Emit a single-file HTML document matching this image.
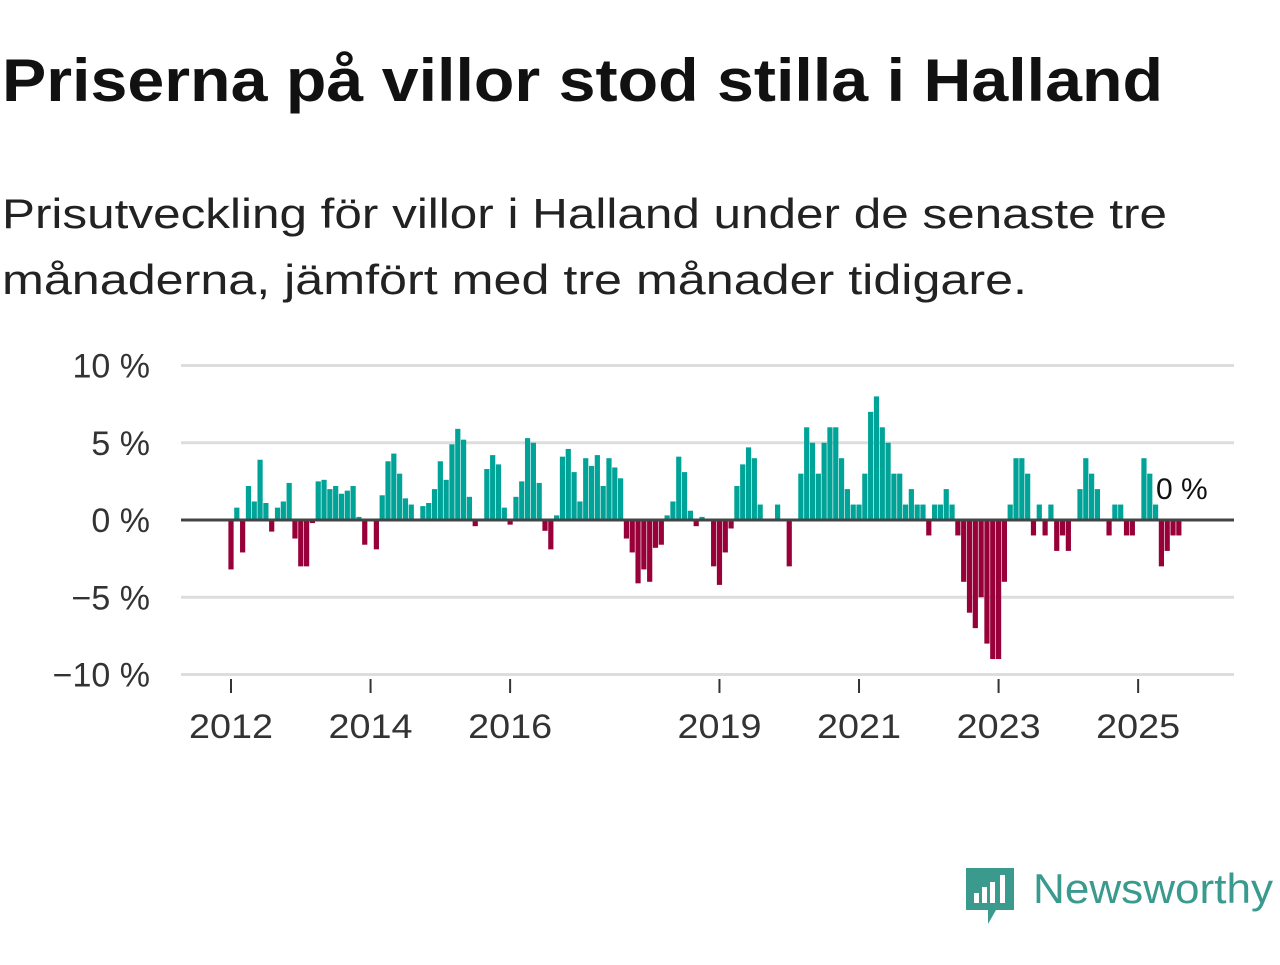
<!DOCTYPE html>
<html><head><meta charset="utf-8">
<style>
body{margin:0;width:1280px;height:960px;background:#fff;overflow:hidden;font-family:"Liberation Sans","DejaVu Sans",sans-serif;}
</style></head>
<body>
<svg width="1280" height="960" viewBox="0 0 1280 960" xmlns="http://www.w3.org/2000/svg">
<text x="2" y="101" font-size="60" font-weight="bold" fill="#111" textLength="1161" lengthAdjust="spacingAndGlyphs">Priserna på villor stod stilla i Halland</text>
<text x="2" y="228" font-size="42" fill="#222" textLength="1165" lengthAdjust="spacingAndGlyphs">Prisutveckling för villor i Halland under de senaste tre</text>
<text x="2" y="294" font-size="42" fill="#222" textLength="1025" lengthAdjust="spacingAndGlyphs">månaderna, jämfört med tre månader tidigare.</text>
<g id="grid"></g>
<g id="bars"></g>
<g id="xaxis"></g>
<line x1="181" x2="1234" y1="520" y2="520" stroke="#444" stroke-width="3"/>
<text x="1156" y="499" font-size="30" fill="#111">0 %</text>
<g>
<path d="M966 868 h48 v42 h-18 l-8 14 v-14 h-22 z" fill="#3a9a8e"/>
<rect x="974" y="893" width="5" height="10" fill="#fff"/>
<rect x="982" y="887" width="5" height="16" fill="#fff"/>
<rect x="990" y="882" width="5" height="21" fill="#fff"/>
<rect x="1000" y="875" width="5" height="28" fill="#fff"/>
<text x="1033" y="903" font-size="42" fill="#3a9a8e" textLength="240" lengthAdjust="spacingAndGlyphs">Newsworthy</text>
</g>
</svg>
<script>
const startYear = 2012;
const values = [
-3.2,0.8,-2.1,2.2,1.2,3.9,1.1,-0.75,0.8,1.2,2.4,-1.2,
-3,-3,-0.2,2.5,2.6,2.0,2.2,1.7,1.9,2.2,0.2,-1.6,
0,-1.9,1.6,3.8,4.3,3.0,1.4,1.0,0,0.9,1.1,2.0,
3.8,2.6,4.9,5.9,5.2,1.5,-0.4,0,3.3,4.2,3.6,0.8,
-0.3,1.5,2.5,5.3,5.0,2.4,-0.7,-1.9,0.3,4.1,4.6,3.1,
1.2,4.0,3.5,4.2,2.2,4.0,3.4,2.7,-1.2,-2.1,-4.1,-3.2,
-4.0,-1.8,-1.6,0.3,1.2,4.1,3.1,0.6,-0.4,0.2,0,-3.0,
-4.2,-2.1,-0.55,2.2,3.6,4.7,4.0,1.0,0,0,1.0,0,
-3.0,0,3.0,6.0,5.0,3.0,5.0,6.0,6.0,4.0,2.0,1.0,
1.0,3.0,7.0,8.0,6.0,5.0,3.0,3.0,1.0,2.0,1.0,1.0,
-1.0,1.0,1.0,2.0,1.0,-1.0,-4.0,-6.0,-7.0,-5.0,-8.0,-9.0,
-9.0,-4.0,1.0,4.0,4.0,3.0,-1.0,1.0,-1.0,1.0,-2.0,-1.0,
-2.0,0,2.0,4.0,3.0,2.0,0,-1.0,1.0,1.0,-1.0,-1.0,
0,4.0,3.0,1.0,-3.0,-2.0,-1.0,-1.0
];
const yTicks = [10,5,0,-5,-10];
const yTickLabels = ["10 %","5 %","0 %","\u22125 %","\u221210 %"];
const xTickYears = [2012,2014,2016,2019,2021,2023,2025];

const NS="http://www.w3.org/2000/svg";
const monthW = 5.815;
function xScale(monthIndex){ return 231 + monthW*monthIndex; }
function yScale(v){ return 520 - v*15.45; }

const grid=document.getElementById('grid');
yTicks.forEach((t,i)=>{
  const ln=document.createElementNS(NS,'line');
  ln.setAttribute('x1',181);ln.setAttribute('x2',1234);
  ln.setAttribute('y1',yScale(t));ln.setAttribute('y2',yScale(t));
  ln.setAttribute('stroke','#ddd');ln.setAttribute('stroke-width','3');
  
  
  grid.appendChild(ln);
  const tx=document.createElementNS(NS,'text');
  tx.setAttribute('x',150);tx.setAttribute('y',yScale(t)+12);
  tx.setAttribute('text-anchor','end');tx.setAttribute('font-size','34');tx.setAttribute('fill','#333');
  tx.textContent=yTickLabels[i];
  
  
  grid.appendChild(tx);
});

const bars=document.getElementById('bars');
values.forEach((v,i)=>{
  if(v===0) return;
  const r=document.createElementNS(NS,'rect');
  const y0=yScale(0), y1=yScale(v);
  r.setAttribute('x',xScale(i)-2.6);
  r.setAttribute('width',5.2);
  r.setAttribute('y',Math.min(y0,y1));
  r.setAttribute('height',Math.abs(y1-y0));
  r.setAttribute('fill',v>0?'#00a398':'#970038');
  
  
  bars.appendChild(r);
});

const xa=document.getElementById('xaxis');
xTickYears.forEach(yr=>{
  const x=xScale((yr-startYear)*12);
  const ln=document.createElementNS(NS,'line');
  ln.setAttribute('x1',x);ln.setAttribute('x2',x);ln.setAttribute('y1',679);ln.setAttribute('y2',693);
  ln.setAttribute('stroke','#333');ln.setAttribute('stroke-width','2');
  
  
  xa.appendChild(ln);
  const tx=document.createElementNS(NS,'text');
  tx.setAttribute('x',x-42);tx.setAttribute('y',738);
  tx.setAttribute('font-size','34');tx.setAttribute('fill','#333');
  tx.setAttribute('textLength','84');tx.setAttribute('lengthAdjust','spacingAndGlyphs');
  tx.textContent=yr;
  
  
  xa.appendChild(tx);
});
</script>
</body></html>
